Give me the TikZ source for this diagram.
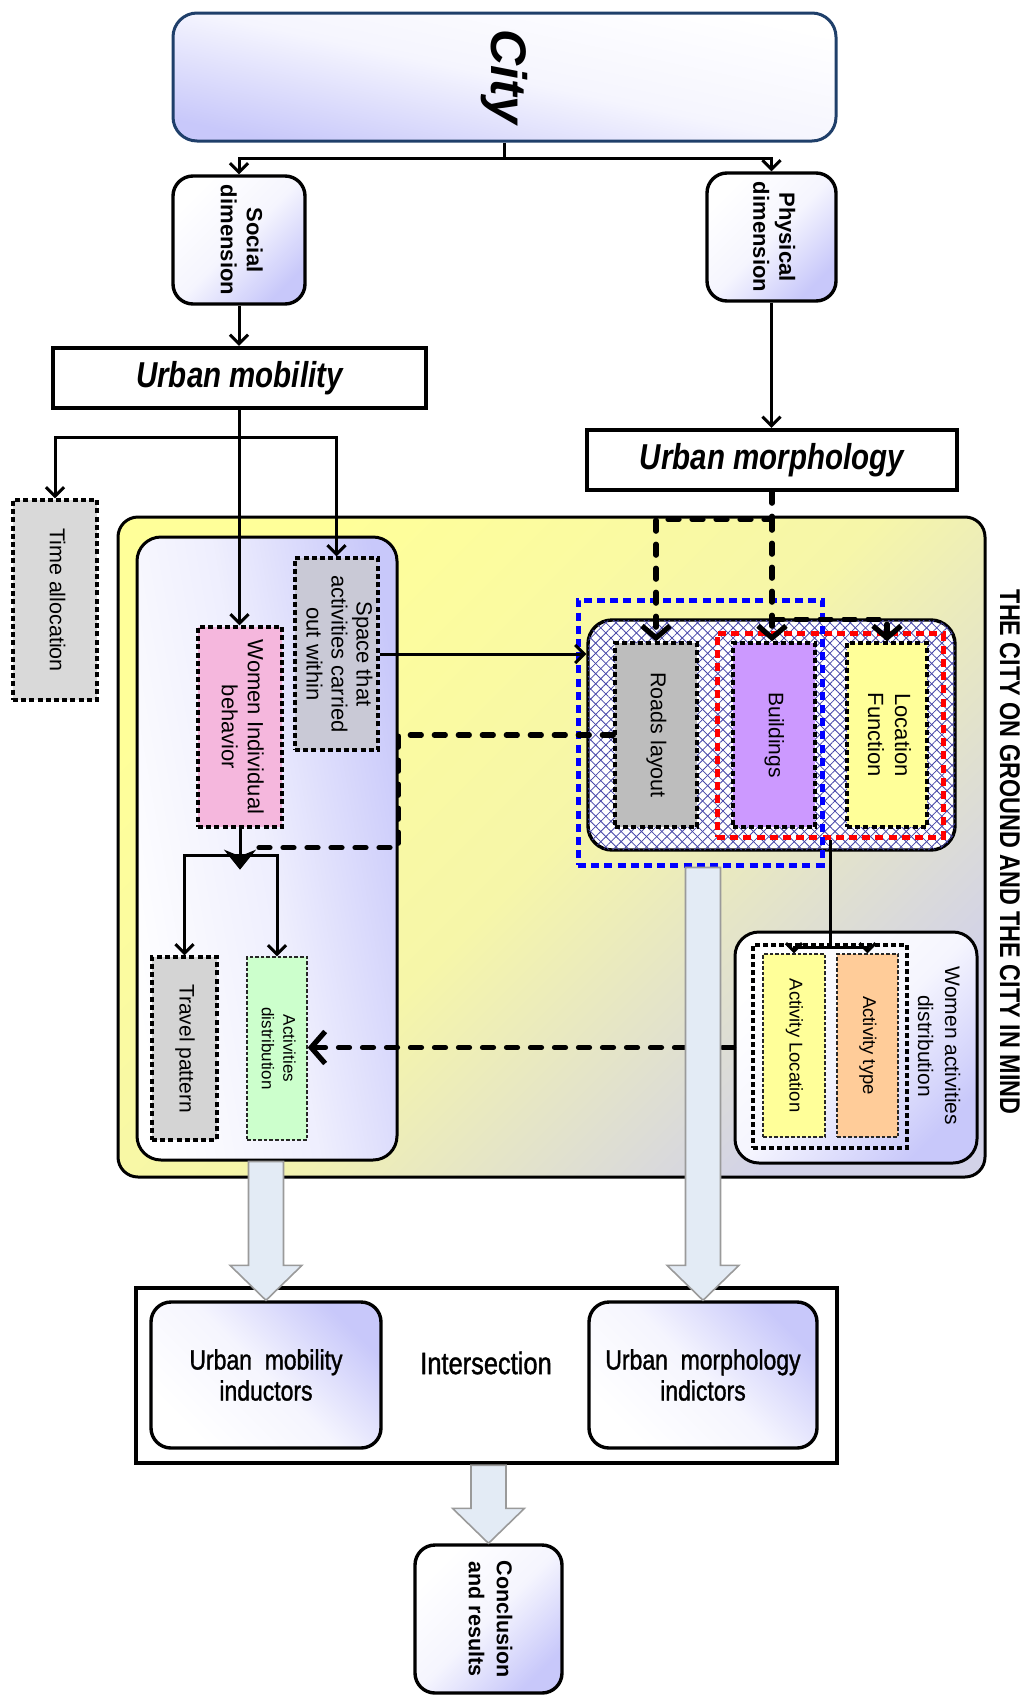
\documentclass[tikz,border=0pt]{standalone}
\usepackage{fontspec}
\setmainfont{Liberation Sans}
\newfontfamily\narrowfont[FakeStretch=0.82]{Liberation Sans}
\newfontfamily\narrowmed[FakeStretch=0.82,FakeBold=1.2]{Liberation Sans}
\usepackage{graphicx}
\usetikzlibrary{arrows.meta,calc,patterns.meta}

\definecolor{lav}{HTML}{C8C8FA}
\definecolor{cityblue}{HTML}{1F3F6A}
\definecolor{paleyel}{HTML}{FFFF99}
\definecolor{greylav}{HTML}{D2D2E8}
\definecolor{timegrey}{HTML}{D9D9D9}
\definecolor{travelgrey}{HTML}{D4D4D4}
\definecolor{spacegrey}{HTML}{C9C9D6}
\definecolor{pinkfill}{HTML}{F5B7DD}
\definecolor{roadgrey}{HTML}{BDBDBD}
\definecolor{bldviolet}{HTML}{CC99FF}
\definecolor{mint}{HTML}{CCFFCC}
\definecolor{peach}{HTML}{FFCC99}
\definecolor{hatchblue}{HTML}{4646A8}
\definecolor{fatfill}{HTML}{E3EBF5}
\definecolor{fatedge}{HTML}{9A9A9A}

% vertical (clockwise) multi-line label
\newcommand\vtext[1]{\rotatebox{-90}{\begin{tabular}{@{}c@{}}#1\end{tabular}}}
% broad hollow arrow pointing down onto a node
\newcommand\fatdown[2]{%
  \path (#2 |- #1) coordinate (fatstart);
  \draw[fatarrow] ($(fatstart)+(-17.5,0)$) -- ($(fatstart)+(17.5,0)$)
    -- ($(#2)+(17.5,-35)$) -- ($(#2)+(36,-35)$) -- (#2)
    -- ($(#2)+(-36,-35)$) -- ($(#2)+(-17.5,-35)$) -- cycle;}

\begin{document}
\begin{tikzpicture}[x=0.5pt, y=-0.5pt,
  lavbox/.style={draw=black, line width=1.7pt, rounded corners=10pt,
    top color=white, bottom color=lav, middle color=white!82!lav, shading angle=#1, inner sep=0pt},
  lavbox/.default=45,
  headbox/.style={draw=black, line width=2.2pt, fill=white, inner sep=0pt,
    font=\narrowfont\bfseries\itshape\fontsize{18}{20}\selectfont},
  dashbox/.style={draw=black, line width=1.7pt, dash pattern=on 2.5pt off 1.6pt,
    fill=#1, inner sep=0pt, font=\fontsize{11}{13}\selectfont},
  thinbox/.style={draw=black!85, line width=0.7pt, dash pattern=on 1.8pt off 1pt,
    fill=#1, inner sep=0pt, font=\fontsize{9.25}{11}\selectfont},
  grpline/.style={draw=#1, line width=2.5pt, dash pattern=on 4pt off 2.6pt, inner sep=0pt},
  hatchbox/.style={draw=black, line width=1.7pt, rounded corners=12pt, fill=white, inner sep=0pt,
    postaction={pattern={Lines[angle=45,distance=3.6pt,line width=0.4pt]}, pattern color=hatchblue},
    postaction={pattern={Lines[angle=-45,distance=3.6pt,line width=0.4pt]}, pattern color=hatchblue}},
  conn/.style={line width=1.5pt, -{Straight Barb[length=4.5pt,width=9pt]}},
  dconn/.style={line width=2.6pt, line cap=round, dash pattern=on 5.5pt off 6.5pt,
    -{Straight Barb[length=6pt,width=14pt]}},
  dline/.style={line width=2.6pt, line cap=round, dash pattern=on 5.5pt off 6.5pt},
  fatarrow/.style={draw=fatedge, line width=0.8pt, fill=fatfill, line join=miter},
]
\useasboundingbox (0,0) rectangle (1029,1697);

% ---- top level
\node[lavbox=-12, draw=cityblue, line width=1.5pt, rounded corners=12pt,
  minimum width=331.5pt, minimum height=64pt,
  font=\fontsize{25}{28}\selectfont\bfseries\itshape] (city) at (504.5,77) {\rotatebox{-90}{City}};
\node[lavbox, minimum width=66pt, minimum height=64pt,
  font=\fontsize{11}{13}\selectfont\bfseries] (social) at (239,240) {\vtext{Social\\dimension}};
\node[lavbox, minimum width=64.5pt, minimum height=64pt,
  font=\fontsize{11}{13}\selectfont\bfseries] (physical) at (771.5,237) {\vtext{Physical\\dimension}};

\node[headbox, minimum width=186.5pt, minimum height=30pt] (umob) at (239.5,378) {Urban mobility};
\node[headbox, minimum width=185pt, minimum height=30pt] (umorph) at (772,460) {Urban morphology};

\node[dashbox=timegrey, minimum width=42pt, minimum height=100pt,
  font=\fontsize{10.75}{13}\selectfont] (time) at (55,600) {\vtext{Time allocation}};

% ---- the city on ground / in mind
\node[draw=black, line width=1.5pt, rounded corners=10pt, top color=paleyel, bottom color=greylav,
  middle color=paleyel!80!greylav, shading angle=45,
  minimum width=433.5pt, minimum height=330pt] (ground) at (551.5,847) {};
\node[font=\narrowfont\bfseries\fontsize{14.25}{16}\selectfont] (mind) at (1010,852)
  {\rotatebox{-90}{THE CITY ON GROUND AND THE CITY IN MIND}};

% mobility side
\node[draw=black, line width=1.5pt, rounded corners=12pt, inner sep=0pt,
  top color=white, bottom color=lav, middle color=white!70!lav, shading angle=100,
  minimum width=130pt, minimum height=311.5pt] (mobbox) at (267,848.5) {};
\node[dashbox=spacegrey, minimum width=41.5pt, minimum height=96pt,
  font=\fontsize{11}{12.5}\selectfont] (space) at (336.5,654) {\vtext{Space that\\activities carried\\out within}};
\node[dashbox=pinkfill, minimum width=42pt, minimum height=100pt] (women) at (240,727)
  {\vtext{Women Individual\\behavior}};
\node[dashbox=travelgrey, minimum width=32.5pt, minimum height=91.5pt,
  font=\fontsize{10.5}{12}\selectfont] (travel) at (184.5,1048.5) {\vtext{Travel pattern}};
\node[thinbox=mint, minimum width=30pt, minimum height=91.5pt,
  font=\fontsize{8.5}{10.8}\selectfont] (actdist) at (277,1048.5) {\vtext{Activities\\distribution}};

% morphology side
\node[hatchbox, minimum width=183.5pt, minimum height=115pt] (hatch) at (771.5,735) {};
\node[dashbox=roadgrey, minimum width=41pt, minimum height=92pt,
  font=\fontsize{10.75}{13}\selectfont] (roads) at (656,735) {\vtext{Roads layout}};
\node[dashbox=bldviolet, minimum width=41pt, minimum height=92pt,
  font=\fontsize{10.5}{13}\selectfont] (buildings) at (774,735) {\vtext{Buildings}};
\node[dashbox=paleyel, minimum width=40pt, minimum height=92pt,
  font=\fontsize{11}{13.5}\selectfont] (locfun) at (887,735) {\vtext{Location\\Function}};
\node[grpline=red, minimum width=113pt, minimum height=102pt] (redgrp) at (830,735) {};
\node[grpline=blue, minimum width=122pt, minimum height=132.5pt] (bluegrp) at (700,732.5) {};

% women activities distribution
\node[lavbox=45, line width=1.5pt, rounded corners=12pt,
  minimum width=121pt, minimum height=115.5pt] (wad) at (856,1047.5) {};
\node[font=\fontsize{10.5}{13.5}\selectfont] (wadlabel) at (937,1046)
  {\vtext{Women activities\\distribution}};
\node[draw=black, line width=1.6pt, dash pattern=on 2.4pt off 1.6pt,
  minimum width=77pt, minimum height=101.5pt] (wadin) at (830,1046.5) {};
\node[thinbox=paleyel, minimum width=31pt, minimum height=91.5pt] (actloc) at (794,1045.5)
  {\vtext{Activity Location}};
\node[thinbox=peach, minimum width=30.5pt, minimum height=91.5pt] (acttype) at (867.5,1045.5)
  {\vtext{Activity type}};

% ---- intersection and conclusion
\node[draw=black, line width=2.2pt, fill=white, minimum width=350.5pt, minimum height=87.5pt]
  (inter) at (486.5,1375.5) {};
\node[lavbox=135, minimum width=115pt, minimum height=73pt, align=center,
  font=\narrowmed\fontsize{14}{15.5}\selectfont] (umi) at (266,1375) {Urban\ \ mobility\\inductors};
\node[lavbox=135, minimum width=114pt, minimum height=73pt, align=center,
  font=\narrowmed\fontsize{14}{15.5}\selectfont] (umpi) at (703,1375) {Urban\ \ morphology\\indictors};
\node[font=\narrowmed\fontsize{15.5}{17}\selectfont] (isect) at (486,1363) {Intersection};
\node[lavbox=45, minimum width=73.5pt, minimum height=74pt,
  font=\fontsize{10.75}{14}\selectfont\bfseries] (concl) at (488.5,1619) {\vtext{Conclusion\\and results}};

% ---- connectors
\draw[conn] (city.south) -- ++(0,16) coordinate (cityfork) -| (social.north);
\draw[conn] (cityfork) -| (physical.north);
\draw[conn] (social.south) -- (social.south |- umob.north);
\draw[conn] (physical.south) -- (physical.south |- umorph.north);
\draw[conn] (umob.south) -- (umob.south |- women.north);
\draw[conn] ($(umob.south)+(0,27)$) coordinate (mobfork) -| (time.north);
\draw[conn] (mobfork) -| (space.north);
\draw[conn] (space.east) -- (space.east -| hatch.west);

\draw[dconn] (umorph.south) -- ++(0,27) coordinate (morphfork) -| (roads.north);
\draw[dconn] (morphfork) -- (morphfork |- buildings.north);
\draw[dconn] ($(morphfork)+(0,100)$) coordinate (morphfork2) -| (locfun.north);

\coordinate (womenjoin) at ($(women.south)+(7,19)$);
\draw[dline] (roads.west) -| (mobbox.east |- womenjoin) -- (womenjoin);

\draw[line width=1.5pt, -{Stealth[length=10pt,width=16pt]}] (women.south) -- ++(0,41);
\draw[conn] ($(women.south)+(0,27)$) coordinate (womenfork) -| (travel.north);
\draw[conn] (womenfork) -| (actdist.north);

\draw[line width=1.5pt, -{Straight Barb[length=4pt,width=8pt]}] (redgrp.south) -- ++(0,108) coordinate (redfork) -| (actloc.north);
\draw[line width=1.5pt, -{Straight Barb[length=4pt,width=8pt]}] (redfork) -| (acttype.north);

\draw[dline, -{Straight Barb[length=7pt,width=16pt]}] (wad.west) -- (wad.west -| actdist.east);

% broad arrows
\fatdown{mobbox.south}{umi.north}
\fatdown{bluegrp.south}{umpi.north}
\fatdown{inter.south}{concl.north}
\end{tikzpicture}
\end{document}
